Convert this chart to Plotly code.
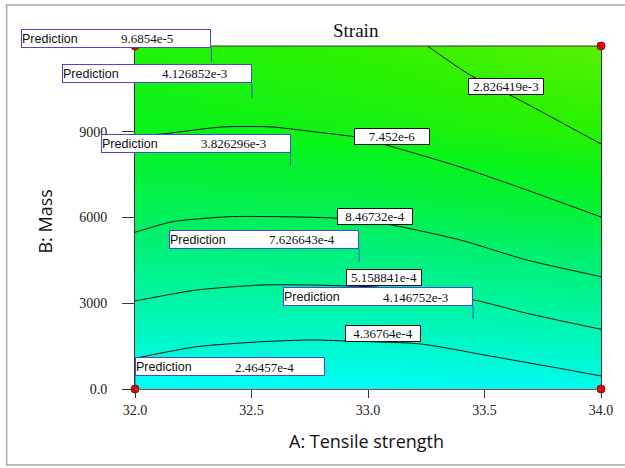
import plotly.graph_objects as go

# ---------------- data ----------------
x_ticks = [32.0, 32.5, 33.0, 33.5, 34.0]
x_tick_text = ["32.0", "32.5", "33.0", "33.5", "34.0"]
y_ticks = [0, 3000, 6000, 9000]
y_tick_text = ["0.0", "3000", "6000", "9000"]

# background response shading (relative level) on a coarse grid
bg_x = [32.0, 33.0, 34.0]
bg_y = [0, 3000, 6000, 9000, 12000]
bg_z = [
    [0.00, 0.00, 0.03],
    [0.30, 0.30, 0.36],
    [0.55, 0.57, 0.63],
    [0.72, 0.76, 0.83],
    [0.80, 0.86, 0.96],
]

# contour lines (x = tensile strength, y = mass)
c1_x = [33.255, 33.438, 33.626, 34.0]
c1_y = [12000, 10986, 10216, 8572]
c2_x = [32.0, 32.119, 32.374, 32.587, 32.774, 32.945, 33.077, 33.396, 33.681, 34.0]
c2_y = [8863, 8923, 9168, 9168, 8993, 8818, 8538, 7768, 6963, 6018]
c3_x = [32.0, 32.162, 32.404, 32.617, 32.872, 33.085, 33.396, 33.681, 34.0]
c3_y = [5483, 5854, 6029, 6029, 5973, 5763, 5214, 4514, 3930]
c4_x = [32.0, 32.264, 32.545, 32.757, 32.915, 33.030, 33.455, 33.681, 34.0]
c4_y = [3079, 3464, 3639, 3639, 3604, 3569, 3114, 2649, 2089]
c5_x = [32.0, 32.264, 32.545, 32.757, 32.906, 33.226, 33.540, 33.821, 34.0]
c5_y = [1074, 1480, 1655, 1715, 1680, 1575, 1130, 724, 455]

contour_label_text = ["2.826419e-3", "7.452e-6", "8.46732e-4", "5.158841e-4", "4.36764e-4"]
contour_label_x = [33.594, 33.104, 33.028, 33.068, 33.066]
contour_label_y = [10567, 8835, 6036, 3901, 1942]

# prediction flags (point where the flag pole ends)
pred_values = ["9.6854e-5", "4.126852e-3", "3.826296e-3", "7.626643e-4", "4.146752e-3", "2.46457e-4"]
pred_x = [32.328, 32.502, 32.668, 32.962, 33.451, 32.0]
pred_y = [11441, 10182, 7803, 4444, 2449, 0]
pred_pole_px = [14, 15, 13, 13, 13, 13]
pred_side = ["right", "right", "right", "right", "right", "left"]

design_x = [32.0, 34.0, 32.0, 34.0]
design_y = [0, 0, 12000, 12000]

# ---------------- figure ----------------
fig = go.Figure()

fig.add_trace(go.Heatmap(
    x=bg_x, y=bg_y, z=bg_z, zsmooth="best", showscale=False, hoverinfo="skip",
    zmin=0, zmax=1,
    colorscale=[
        [0.0, "#00fcf8"],
        [0.25, "#00f6b4"],
        [0.5, "#00f070"],
        [0.72, "#06f41c"],
        [0.85, "#2ef200"],
        [1.0, "#66f200"],
    ],
))

for cx, cy in [(c1_x, c1_y), (c2_x, c2_y), (c3_x, c3_y), (c4_x, c4_y), (c5_x, c5_y)]:
    fig.add_trace(go.Scatter(x=cx, y=cy, mode="lines", line=dict(color="#111111", width=1, shape="spline", smoothing=0.6),
                             hoverinfo="skip", showlegend=False))

annotations = []
for t, lx, ly in zip(contour_label_text, contour_label_x, contour_label_y):
    annotations.append(dict(
        x=lx, y=ly, xref="x", yref="y", text=t, showarrow=False,
        font=dict(family="Liberation Serif", size=13, color="#111111"),
        bgcolor="white", bordercolor="#111111", borderwidth=1, borderpad=0,
        width=74, height=15,
    ))

shapes = []
BLUE = "#4848d4"
BOX_W = 190
for v, px, py, pole, side in zip(pred_values, pred_x, pred_y, pred_pole_px, pred_side):
    anchor = "right" if side == "right" else "left"
    annotations.append(dict(
        x=px, y=py, xref="x", yref="y", xanchor=anchor, yanchor="bottom", yshift=pole,
        text="Prediction", showarrow=False, align="left",
        font=dict(family="Liberation Sans", size=12.5, color="#111111"),
        bgcolor="white", bordercolor=BLUE, borderwidth=1, borderpad=0,
        width=BOX_W - 2, height=17,
    ))
    xs = -BOX_W + 98 if side == "right" else 98
    annotations.append(dict(
        x=px, y=py, xref="x", yref="y", xanchor="left", yanchor="middle", xshift=xs, yshift=pole + 9,
        text=v, showarrow=False,
        font=dict(family="Liberation Serif", size=13, color="#111111"),
    ))
    shapes.append(dict(type="line", xref="x", yref="y", ysizemode="pixel", yanchor=py,
                       x0=px, x1=px, y0=0, y1=pole, line=dict(color=BLUE, width=1)))

fig.add_trace(go.Scatter(x=design_x, y=design_y, mode="markers", cliponaxis=False,
                         marker=dict(size=8, color="#ff0000", line=dict(color="#a00000", width=1)),
                         hoverinfo="skip", showlegend=False))

# axis titles and chart title
annotations.append(dict(text="Strain", x=0.474, y=1.0, xref="paper", yref="paper", yanchor="bottom", yshift=3,
                        showarrow=False, font=dict(family="Liberation Serif", size=19, color="#111111")))
annotations.append(dict(text="A: Tensile strength", x=0.496, y=-0.152, xref="paper", yref="paper",
                        xanchor="center", yanchor="middle",
                        showarrow=False, font=dict(family="Open Sans", size=18, color="#111111")))
annotations.append(dict(text="B: Mass", x=-0.194, y=0.487, xref="paper", yref="paper", textangle=-90,
                        xanchor="center", yanchor="middle",
                        showarrow=False, font=dict(family="Open Sans", size=18, color="#111111")))

# top border of plot area and outer frame (open on the right)
shapes.append(dict(type="line", xref="paper", yref="paper", x0=0, x1=1, y0=1, y1=1,
                   line=dict(color="#333333", width=1)))
shapes.append(dict(type="rect", xref="paper", yref="paper", x0=-0.2755, x1=1.2, y0=-0.2215, y1=1.1195,
                   line=dict(color="#a8a8a8", width=1.5), layer="below"))

fig.update_layout(
    width=625, height=468,
    margin=dict(l=135, r=20, t=46, b=79),
    paper_bgcolor="white", plot_bgcolor="white",
    showlegend=False,
    annotations=annotations, shapes=shapes,
    xaxis=dict(range=[32, 34], tickvals=x_ticks, ticktext=x_tick_text, ticks="outside", ticklen=8,
               tickcolor="#333333", showgrid=False, zeroline=False, showline=True, linecolor="#a04040",
               linewidth=1, tickfont=dict(family="Liberation Serif", size=14, color="#222222")),
    yaxis=dict(range=[0, 12000], tickvals=y_ticks, ticktext=y_tick_text, ticks="outside", ticklen=12,
               tickcolor="#333333", showgrid=False, zeroline=False, showline=True, mirror=True,
               linecolor="#333333", linewidth=1, ticklabelstandoff=12,
               tickfont=dict(family="Liberation Serif", size=14, color="#222222")),
)

fig.write_html("out.html", config={"displayModeBar": False},
               post_script="document.body.style.margin='0';document.body.style.overflow='hidden';")
